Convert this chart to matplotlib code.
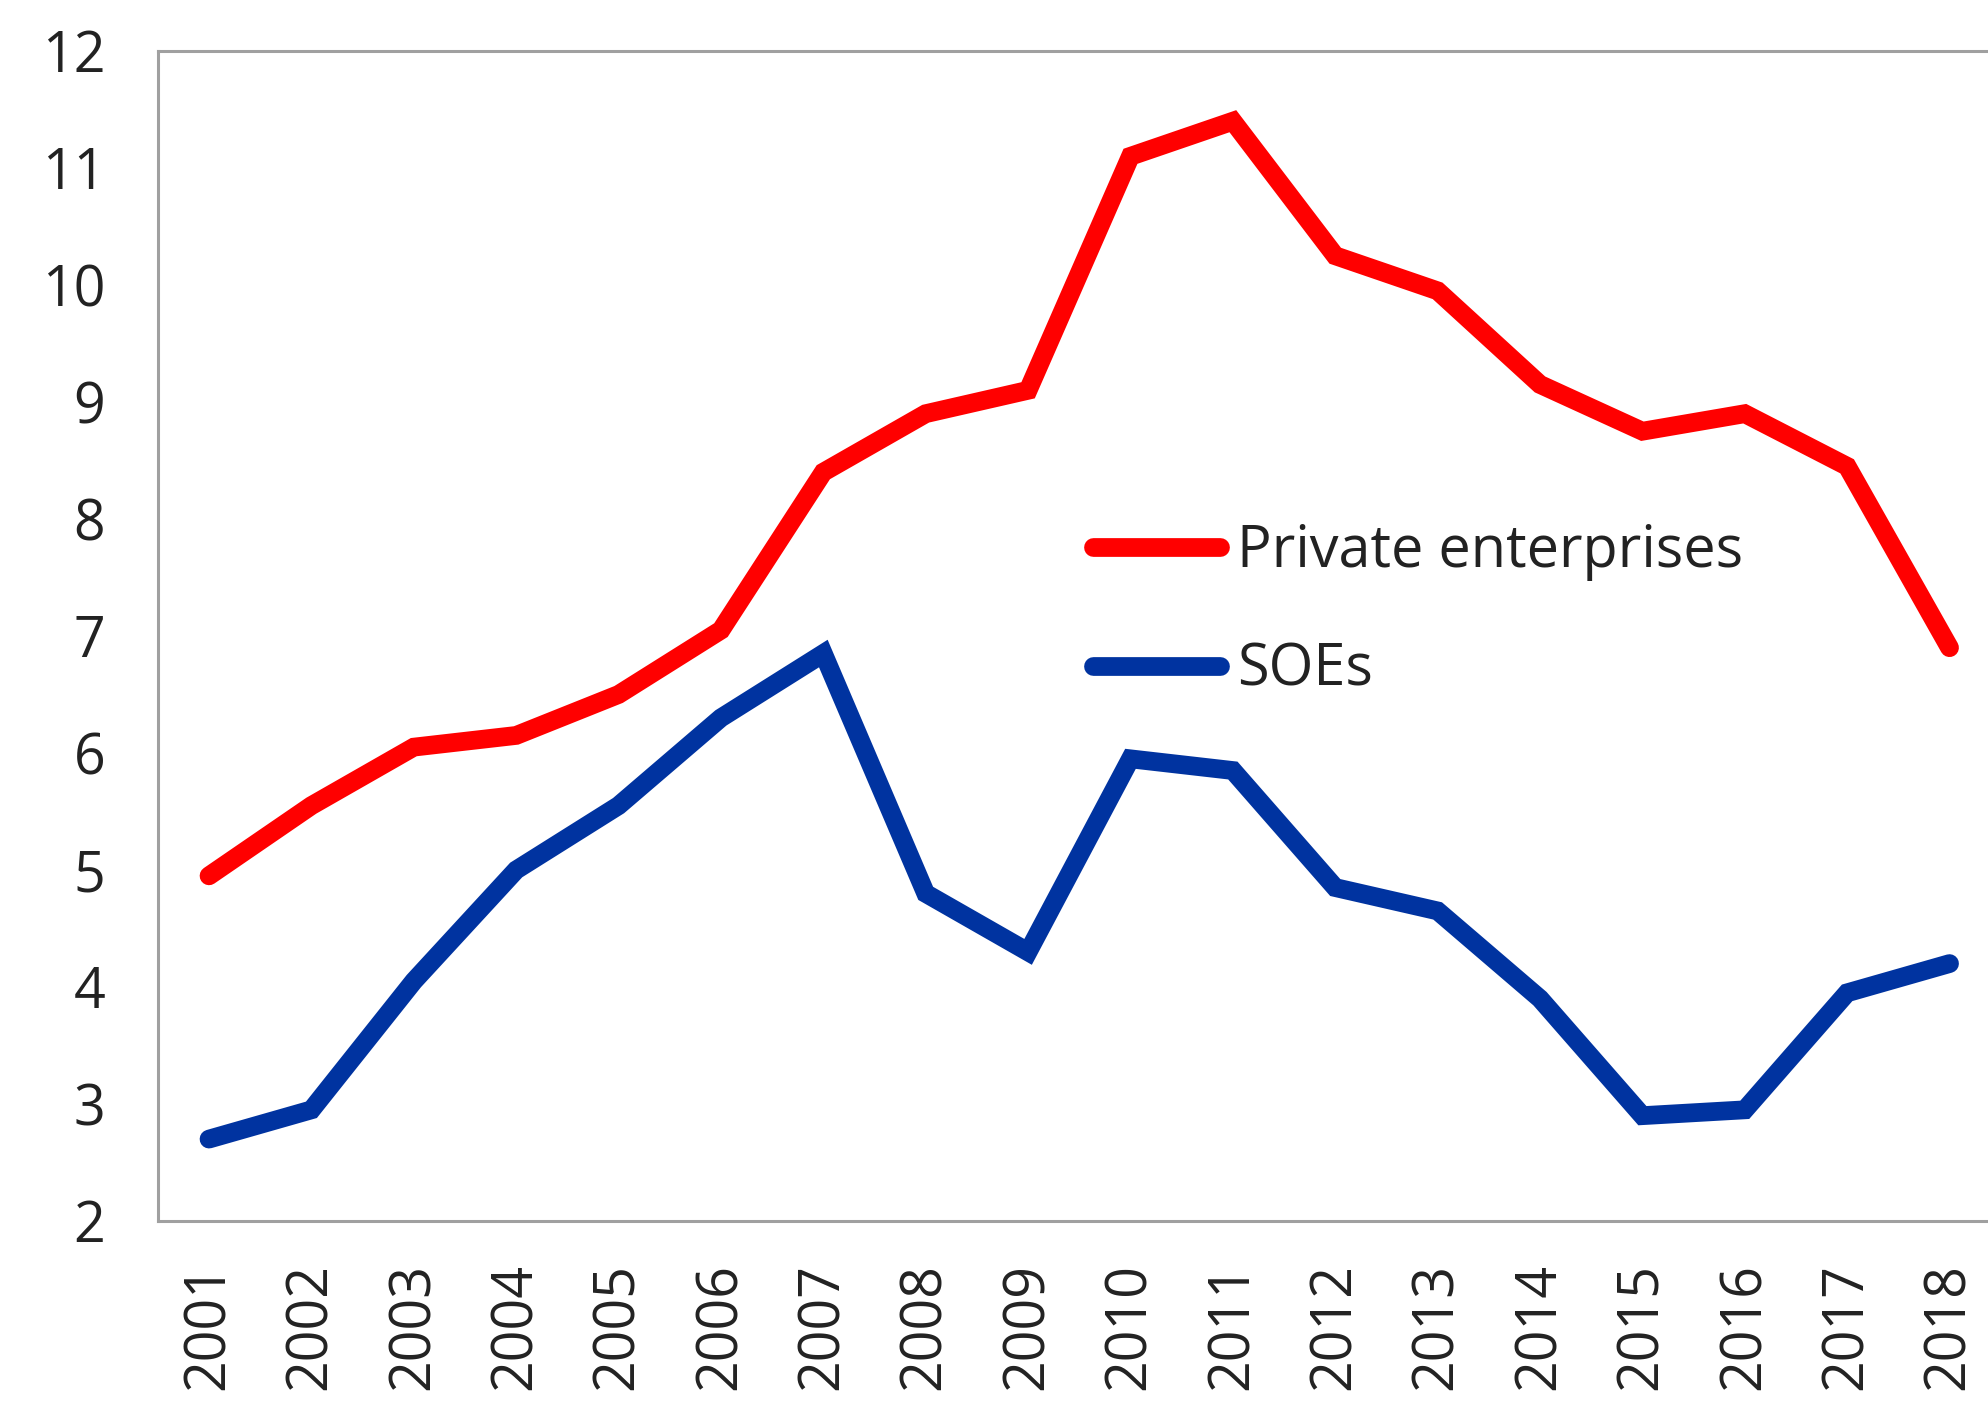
import matplotlib
matplotlib.use("Agg")
import matplotlib.pyplot as plt

years = [str(y) for y in range(2001, 2019)]
private = [4.95, 5.55, 6.05, 6.15, 6.5, 7.05, 8.4, 8.9, 9.1, 11.1, 11.4, 10.25, 9.95, 9.15, 8.75, 8.9, 8.45, 6.9]
soes = [2.7, 2.95, 4.05, 5.0, 5.55, 6.3, 6.85, 4.8, 4.3, 5.95, 5.85, 4.85, 4.65, 3.9, 2.9, 2.95, 3.95, 4.2]
yticks = [2, 3, 4, 5, 6, 7, 8, 9, 10, 11, 12]

plt.rcParams['font.family'] = ['Open Sans', 'DejaVu Sans']

fig = plt.figure(figsize=(19.88, 14.01), dpi=100)
ax = fig.add_axes([0.0794, 0.1285, 0.927, 0.8351])

x = list(range(len(years)))
ax.plot(x, private, color='#FF0000', lw=13.5, solid_capstyle='round', solid_joinstyle='miter', label='Private enterprises')
ax.plot(x, soes, color='#0033A0', lw=13.5, solid_capstyle='round', solid_joinstyle='miter', label='SOEs')

ax.set_xlim(-0.5, 17.5)
ax.set_ylim(2, 12)
ax.set_yticks(yticks)
ax.set_yticklabels([str(t) for t in yticks])
ax.set_xticks(x)
ax.set_xticklabels(years, rotation=90, va='top', ha='center')
ax.tick_params(axis='both', length=0, labelsize=40, colors='#222222')
ax.tick_params(axis='y', pad=38)
ax.tick_params(axis='x', pad=30)
for s in ax.spines.values():
    s.set_color('#A0A0A0')
    s.set_linewidth(2.2)

leg = ax.legend(loc='center left', bbox_to_anchor=(1093/1988, 789.8/1401), bbox_transform=fig.transFigure,
                frameon=False, fontsize=41.5, handlelength=2.2, handletextpad=0.3, borderpad=0,
                borderaxespad=0, labelspacing=1.05)
for t in leg.get_texts():
    t.set_color('#222222')

fig.savefig('out.png', dpi=100)
